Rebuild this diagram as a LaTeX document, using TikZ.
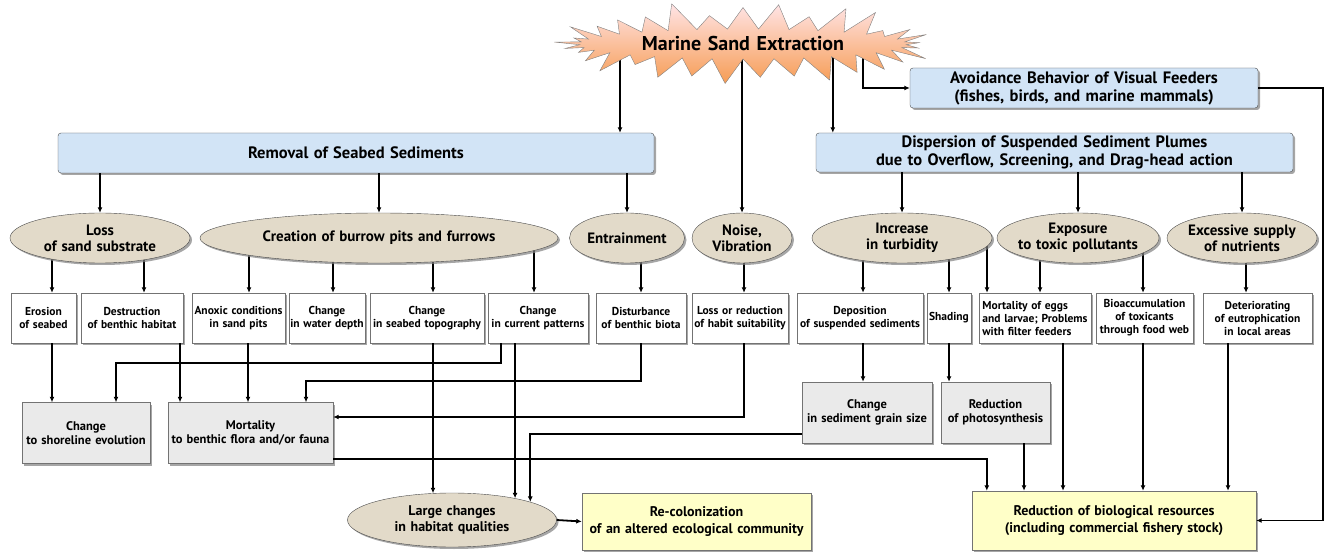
\documentclass[tikz,border=0pt]{standalone}
\usepackage{fontspec}
\setmainfont{PT Sans}[WordSpace=1.3]
\usetikzlibrary{shapes,shapes.symbols,arrows.meta,positioning,calc,shadows,backgrounds}
\definecolor{skyblue}{RGB}{210,228,246}
\definecolor{sandbeige}{RGB}{226,218,201}
\definecolor{marble}{RGB}{234,234,234}
\definecolor{paleyellow}{RGB}{255,255,200}
\definecolor{burstpink}{RGB}{255,228,230}
\definecolor{burstorange}{RGB}{246,156,84}

\begin{document}
\begin{tikzpicture}[x=1pt, y=-1pt,
    shade/.style={drop shadow={shadow xshift=2pt, shadow yshift=-2pt, opacity=.7}},
    burst/.style={starburst, starburst points=33, starburst point height=30pt, minimum width=387pt, minimum height=76pt, top color=burstpink, bottom color=burstorange, draw=black!50, font=\bfseries\fontsize{20}{24}\selectfont},
    bluebox/.style={draw=black!70, rectangle, rounded corners=3pt, fill=skyblue, shade, inner sep=2pt, align=center, font=\bfseries\fontsize{16.5}{18}\selectfont},
    oval/.style={draw=black!70, ellipse, fill=sandbeige, shade, inner xsep=-15pt, inner ysep=0pt, minimum height=50pt, align=center, font=\bfseries\fontsize{15}{16}\selectfont},
    effect/.style={draw=black!55, rectangle, fill=white, shade, minimum height=50pt, inner sep=1pt, align=center, font=\bfseries\fontsize{11.5}{13}\selectfont},
    result/.style={draw=black!55, rectangle, fill=marble, shade, minimum height=61pt, inner sep=1pt, align=center, font=\bfseries\fontsize{12.5}{14.5}\selectfont},
    final/.style={draw=black!55, rectangle, fill=paleyellow, shade, align=center, font=\bfseries\fontsize{14}{16.5}\selectfont},
    arr/.style={line width=1.8pt, -{Latex[length=5.5pt,width=5pt]}}]
    \useasboundingbox (0,0) rectangle (1328,553);

    % Source of all impacts
    \node[burst] (sand) at (743,44) {Marine Sand Extraction};

    % Main pathways
    \node[bluebox, minimum width=596pt, minimum height=40pt] (removal) at (356,153) {Removal of Seabed Sediments};
    \node[bluebox, minimum width=477pt, minimum height=39pt] (plume) at (1054.5,152.5) {Dispersion of Suspended Sediment Plumes\\ due to Overflow, Screening, and Drag-head action};
    \node[bluebox, minimum width=348pt, minimum height=40pt] (avoid) at (1084,88) {Avoidance Behavior of Visual Feeders\\ (fishes, birds, and marine mammals)};

    % Processes
    \node[oval, minimum width=180pt] (loss) at (100,238) {Loss\\ of sand substrate};
    \node[oval, minimum width=358pt] (burrow) at (379,238) {Creation of burrow pits and furrows};
    \node[oval, minimum width=115pt] (entrain) at (627,238) {Entrainment};
    \node[oval, minimum width=100pt] (noise) at (742,238) {Noise,\\ Vibration};
    \node[oval, minimum width=180pt] (turbid) at (902,238) {Increase\\ in turbidity};
    \node[oval, minimum width=162pt] (toxic) at (1078,238) {Exposure\\ to toxic pollutants};
    \node[oval, minimum width=150pt] (nutrient) at (1242,238) {Excessive supply\\ of nutrients};

    % Direct effects
    \node[effect, minimum width=65pt] (erosion) at (43.5,318) {Erosion\\ of seabed};
    \node[effect, minimum width=102pt] (destruct) at (132,318) {Destruction\\ of benthic habitat};
    \node[effect, minimum width=93pt] (anoxic) at (238.5,318) {Anoxic conditions\\ in sand pits};
    \node[effect, minimum width=76pt] (depth) at (327,318) {Change\\ in water depth};
    \node[effect, minimum width=114pt] (topo) at (427,318) {Change\\ in seabed topography};
    \node[effect, minimum width=100pt] (current) at (538,318) {Change\\ in current patterns};
    \node[effect, minimum width=90pt] (disturb) at (641,318) {Disturbance\\ of benthic biota};
    \node[effect, minimum width=96pt] (suit) at (740,318) {Loss or reduction\\ of habit suitability};
    \node[effect, minimum width=126pt] (deposit) at (860,318) {Deposition\\ of suspended sediments};
    \node[effect, minimum width=44pt] (shading) at (949,318) {Shading};
    \node[effect, minimum width=112pt, align=left] (eggs) at (1035,318) {Mortality of eggs\\ and larvae; Problems\\ with filter feeders};
    \node[effect, minimum width=97pt] (bioacc) at (1144.5,318) {Bioaccumulation\\ of toxicants\\ through food web};
    \node[effect, minimum width=109pt] (eutro) at (1257.5,318) {Deteriorating\\ of eutrophication\\ in local areas};

    % Secondary effects
    \node[result, minimum width=128pt] (shore) at (86,433) {Change\\ to shoreline evolution};
    \node[result, minimum width=165pt] (mortal) at (250.5,433) {Mortality\\ to benthic flora and/or fauna};
    \node[result, minimum width=130pt] (grain) at (867,412.5) {Change\\ in sediment grain size};
    \node[result, minimum width=109pt] (photo) at (995.5,412.5) {Reduction\\ of photosynthesis};

    % Outcomes
    \node[oval, minimum width=209pt, minimum height=54pt, font=\bfseries\fontsize{14}{16}\selectfont] (large) at (452,520) {Large changes\\ in habitat qualities};
    \node[final, minimum width=229pt, minimum height=57pt] (recol) at (696.5,521.5) {Re-colonization\\ of an altered ecological community};
    \node[final, minimum width=284pt, minimum height=59pt] (reduce) at (1114,520.5) {Reduction of biological resources\\ (including commercial fishery stock)};

    % Arrows starting inside shapes
    \begin{pgfonlayer}{background}
        \draw[arr] ([xshift=264,yshift=90]removal.north) -- ([xshift=264]removal.north);
        \draw[arr] ([xshift=17,yshift=90]plume.north west) -- ([xshift=17]plume.north west);
        \draw[arr] (sand.center -| noise.north) -- (noise.north);
        \draw[arr] ([xshift=120]sand.center) |- (avoid.west);
        \foreach \child/\dx in {erosion/8.5, destruct/12, anoxic/10.5, depth/6, topo/6, current/-4, disturb/0, suit/4, deposit/3, shading/0, eggs/-48, eggs/5, bioacc/-1.5, eutro/-11.5}
            \draw[arr] ([xshift=\dx,yshift=55]\child.north) -- ([xshift=\dx]\child.north);
    \end{pgfonlayer}

    % Pathways to processes
    \foreach \parent/\child in {removal/loss, removal/burrow, removal/entrain, plume/turbid, plume/toxic, plume/nutrient}
        \draw[arr] (\parent.south -| \child.north) -- (\child.north);

    % Effects to secondary effects
    \foreach \src/\dst/\dx in {erosion/shore/8.5, destruct/mortal/48, anoxic/mortal/9.5, deposit/grain/3, shading/photo/0, photo/reduce/28.5, eggs/reduce/28, bioacc/reduce/-1.5, eutro/reduce/-29.5}
        \draw[arr] ([xshift=\dx]\src.south) -- ([xshift=\dx]\src.south |- \dst.north);
    \draw[arr] ([xshift=-37]current.south) -- ++(0,20) -| ([xshift=30]shore.north);
    \draw[arr] (disturb.south) -- ++(0,38) -| ([xshift=55.5]mortal.north);
    \draw[arr] ([xshift=4]suit.south) |- ([yshift=16]mortal.east);
    \draw[arr] ([yshift=-26]mortal.east) -| ([xshift=15]reduce.north west);

    % Into habitat changes
    \draw[arr] ([xshift=6]topo.south) -- ([xshift=6]topo.south |- large.126);
    \draw[arr] (large.19 |- current.south) -- (large.19);
    \draw[arr] ([yshift=-21.5]grain.west) -| (large.13);
    \draw[arr] (large.east) -- (recol.west);
    \draw[arr] (avoid.east) -- ++(65,0) |- (reduce.east);
\end{tikzpicture}
\end{document}
